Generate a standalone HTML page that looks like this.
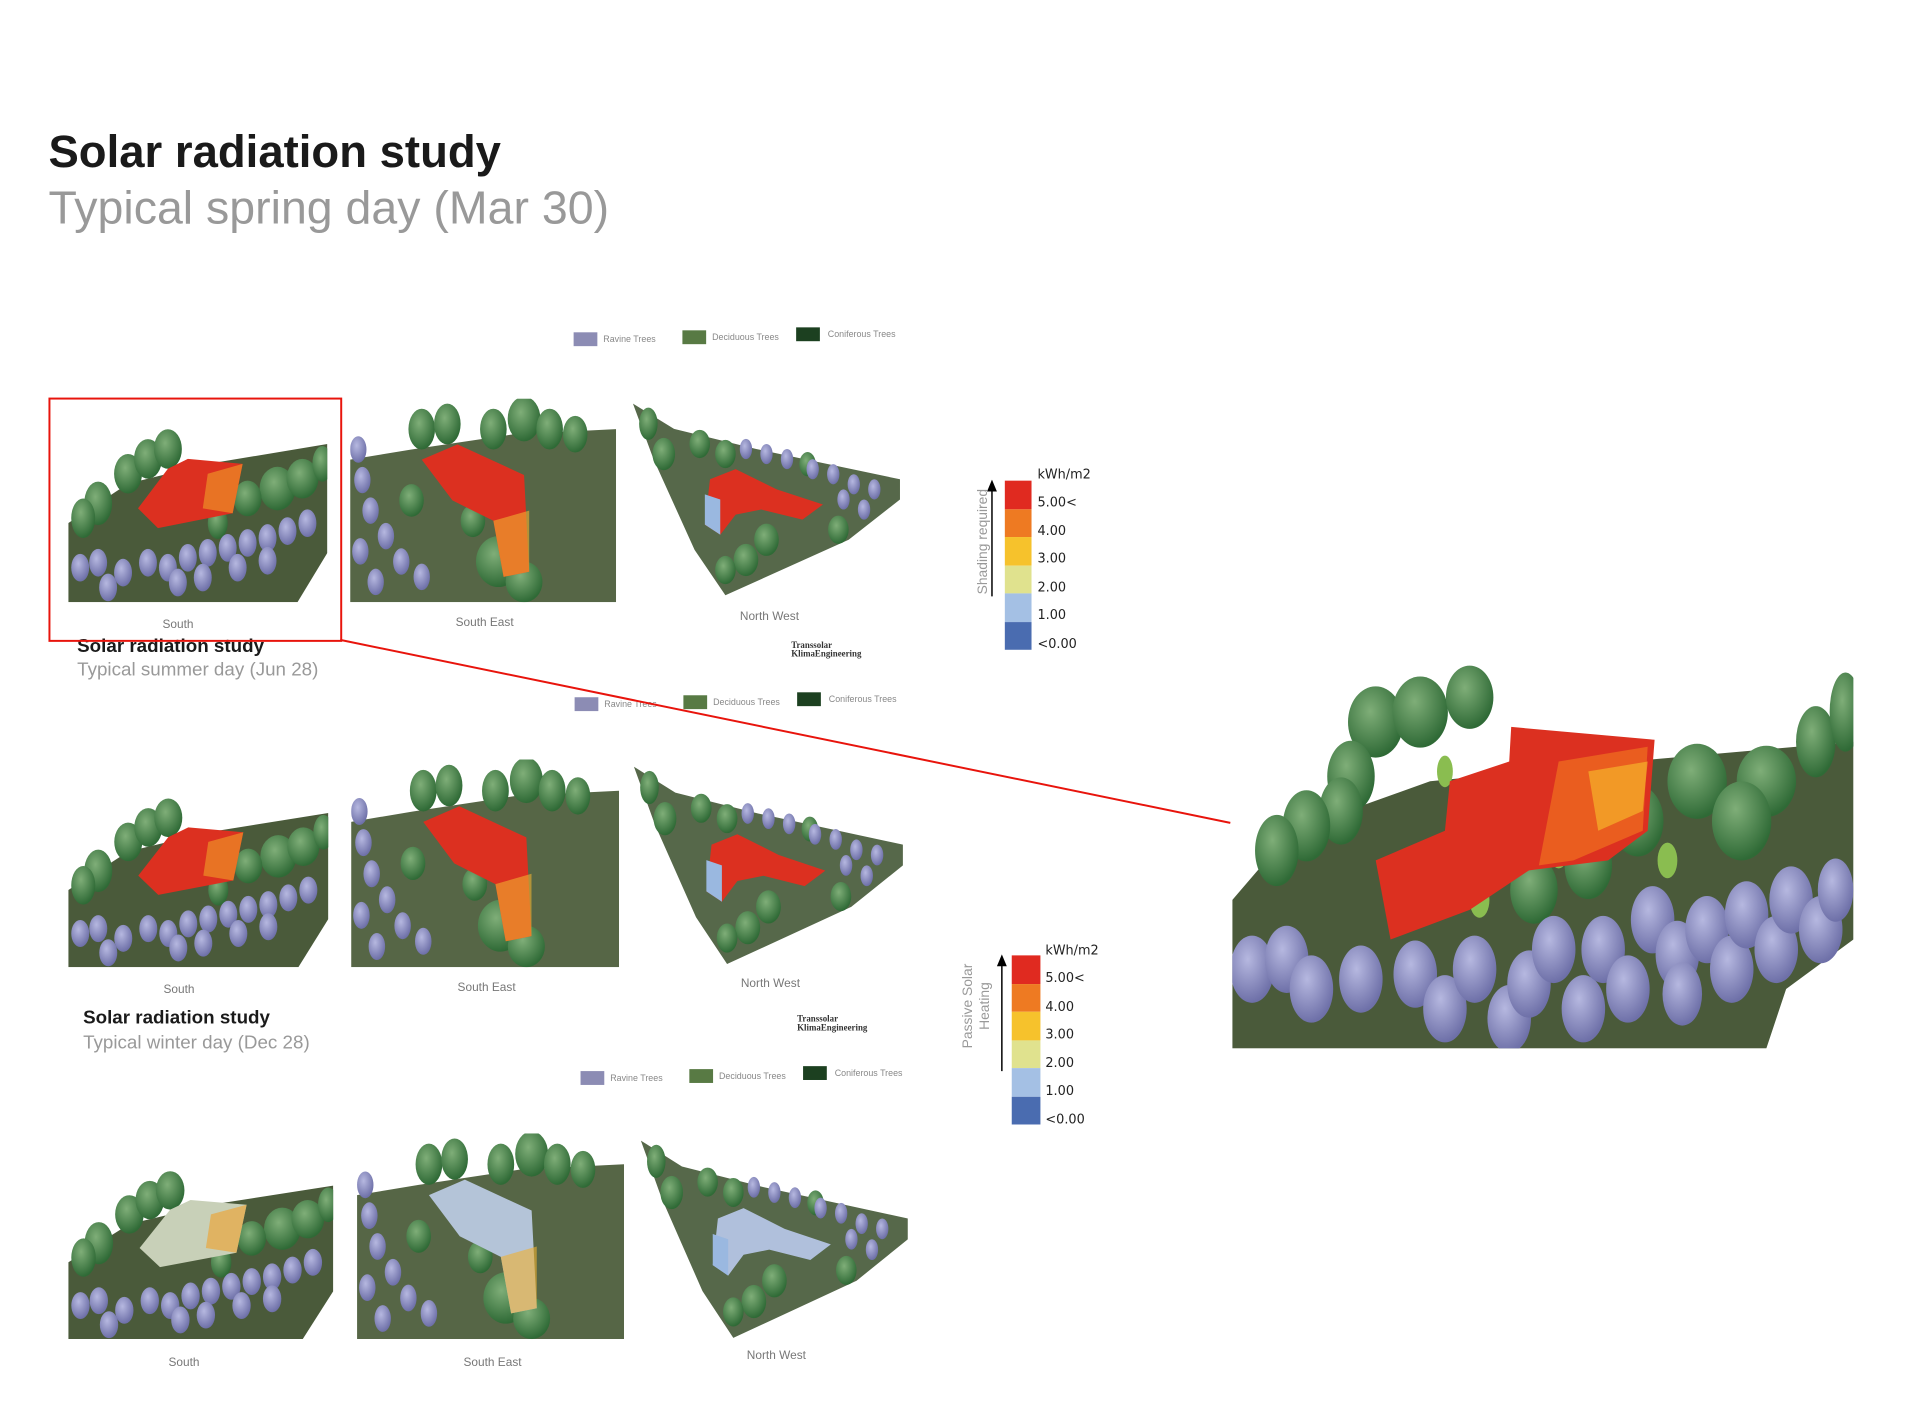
<!DOCTYPE html>
<html><head><meta charset="utf-8">
<style>
body{margin:0;width:1920px;height:1426px;background:#fff;position:relative;overflow:hidden;font-family:"Liberation Sans",sans-serif}
#w{position:absolute;left:0;top:0;width:1920px;height:1426px;transform:scale(0.989);transform-origin:0 0}
.a{position:absolute;white-space:nowrap}
.lbl{font-size:12px;color:#777;transform:translateX(-50%)}
.leg{font-size:9px;color:#888}
.sw{position:absolute;width:24px;height:14px}
.cb div{height:28.5px}
.cbl{font-size:13px;color:#222;font-family:"DejaVu Sans",sans-serif}
.ts{font-size:9px;font-weight:bold;line-height:9px;color:#333;font-family:"Liberation Serif",serif}
svg.sc{position:absolute}
</style></head><body>
<svg width="0" height="0" style="position:absolute">
<defs>
<radialGradient id="gg" cx="40%" cy="35%" r="65%"><stop offset="0" stop-color="#7fae78"/><stop offset="1" stop-color="#2f6a36"/></radialGradient>
<radialGradient id="pg" cx="40%" cy="35%" r="65%"><stop offset="0" stop-color="#b6b8e0"/><stop offset="1" stop-color="#6e70a8"/></radialGradient>
<symbol id="south" viewBox="0 0 260 200">
<polygon points="0,120 60,80 140,60 260,40 260,150 230,200 0,200" fill="#4a5a3a"/>
<g fill="url(#gg)"><ellipse cx="60" cy="70" rx="14" ry="20"/><ellipse cx="80" cy="55" rx="14" ry="20"/><ellipse cx="100" cy="45" rx="14" ry="20"/><ellipse cx="30" cy="100" rx="14" ry="22"/><ellipse cx="15" cy="115" rx="12" ry="20"/><ellipse cx="210" cy="85" rx="18" ry="22"/><ellipse cx="235" cy="75" rx="16" ry="20"/><ellipse cx="180" cy="95" rx="14" ry="18"/><ellipse cx="150" cy="120" rx="10" ry="16"/><ellipse cx="255" cy="60" rx="10" ry="18"/></g>
<polygon points="70,105 100,65 120,55 175,60 165,110 90,125" fill="currentColor"/>
<polygon points="140,70 175,60 165,110 135,105" fill="#f0a028" opacity=".6"/>
<g fill="url(#pg)"><ellipse cx="12" cy="165" rx="9" ry="14"/><ellipse cx="30" cy="160" rx="9" ry="14"/><ellipse cx="55" cy="170" rx="9" ry="14"/><ellipse cx="80" cy="160" rx="9" ry="14"/><ellipse cx="100" cy="165" rx="9" ry="14"/><ellipse cx="120" cy="155" rx="9" ry="14"/><ellipse cx="140" cy="150" rx="9" ry="14"/><ellipse cx="160" cy="145" rx="9" ry="14"/><ellipse cx="180" cy="140" rx="9" ry="14"/><ellipse cx="200" cy="135" rx="9" ry="14"/><ellipse cx="220" cy="128" rx="9" ry="14"/><ellipse cx="240" cy="120" rx="9" ry="14"/><ellipse cx="110" cy="180" rx="9" ry="14"/><ellipse cx="135" cy="175" rx="9" ry="14"/><ellipse cx="170" cy="165" rx="9" ry="14"/><ellipse cx="200" cy="158" rx="9" ry="14"/><ellipse cx="40" cy="185" rx="9" ry="14"/></g>
</symbol>
<symbol id="se" viewBox="0 0 260 200">
<polygon points="0,60 60,50 160,35 260,30 260,200 0,200" fill="#566646"/>
<g fill="url(#gg)"><ellipse cx="70" cy="30" rx="13" ry="20"/><ellipse cx="95" cy="25" rx="13" ry="20"/><ellipse cx="140" cy="30" rx="13" ry="20"/><ellipse cx="170" cy="20" rx="16" ry="22"/><ellipse cx="195" cy="30" rx="13" ry="20"/><ellipse cx="220" cy="35" rx="12" ry="18"/><ellipse cx="145" cy="160" rx="22" ry="25"/><ellipse cx="170" cy="180" rx="18" ry="20"/><ellipse cx="120" cy="120" rx="12" ry="16"/><ellipse cx="60" cy="100" rx="12" ry="16"/></g>
<polygon points="70,60 105,45 170,75 175,170 150,175 140,120 100,100" fill="currentColor"/>
<polygon points="140,120 175,110 175,170 150,175" fill="#f0b030" opacity=".6"/>
<g fill="url(#pg)"><ellipse cx="8" cy="50" rx="8" ry="13"/><ellipse cx="12" cy="80" rx="8" ry="13"/><ellipse cx="20" cy="110" rx="8" ry="13"/><ellipse cx="35" cy="135" rx="8" ry="13"/><ellipse cx="50" cy="160" rx="8" ry="13"/><ellipse cx="70" cy="175" rx="8" ry="13"/><ellipse cx="10" cy="150" rx="8" ry="13"/><ellipse cx="25" cy="180" rx="8" ry="13"/></g>
</symbol>
<symbol id="nw" viewBox="0 0 260 200">
<polygon points="0,5 40,30 120,50 260,80 260,100 210,140 90,195 60,150 20,60" fill="#56684a"/>
<g fill="url(#gg)"><ellipse cx="15" cy="25" rx="9" ry="16"/><ellipse cx="30" cy="55" rx="11" ry="16"/><ellipse cx="65" cy="45" rx="10" ry="14"/><ellipse cx="90" cy="55" rx="10" ry="14"/><ellipse cx="130" cy="140" rx="12" ry="16"/><ellipse cx="110" cy="160" rx="12" ry="16"/><ellipse cx="90" cy="170" rx="10" ry="14"/><ellipse cx="200" cy="130" rx="10" ry="14"/><ellipse cx="170" cy="65" rx="8" ry="12"/></g>
<g fill="url(#pg)"><ellipse cx="110" cy="50" rx="6" ry="10"/><ellipse cx="130" cy="55" rx="6" ry="10"/><ellipse cx="150" cy="60" rx="6" ry="10"/><ellipse cx="175" cy="70" rx="6" ry="10"/><ellipse cx="195" cy="75" rx="6" ry="10"/><ellipse cx="215" cy="85" rx="6" ry="10"/><ellipse cx="235" cy="90" rx="6" ry="10"/><ellipse cx="225" cy="110" rx="6" ry="10"/><ellipse cx="205" cy="100" rx="6" ry="10"/></g>
<polygon points="75,80 100,70 140,90 185,105 165,120 125,110 100,115 85,135 70,125" fill="currentColor"/>
<polygon points="70,95 85,100 85,135 70,125" fill="#9ab8e0"/>
</symbol>
</defs>
</svg>
<div id="w">
<div class="a" style="left:49px;top:126px;font-size:46px;font-weight:bold;color:#1a1a1a">Solar radiation study</div>
<div class="a" style="left:49px;top:182px;font-size:47px;color:#999">Typical spring day (Mar 30)</div>

<div class="a" style="left:580px;top:336px;width:340px;height:20px">
<div class="sw" style="left:0;top:0;background:#8c8cb4"></div><div class="a leg" style="left:30px;top:2px">Ravine Trees</div>
<div class="sw" style="left:110px;top:-2px;background:#587a44"></div><div class="a leg" style="left:140px;top:0">Deciduous Trees</div>
<div class="sw" style="left:225px;top:-5px;background:#1c4020"></div><div class="a leg" style="left:257px;top:-3px">Coniferous Trees</div></div>
<div class="a" style="left:581px;top:705px;width:340px;height:20px">
<div class="sw" style="left:0;top:0;background:#8c8cb4"></div><div class="a leg" style="left:30px;top:2px">Ravine Trees</div>
<div class="sw" style="left:110px;top:-2px;background:#587a44"></div><div class="a leg" style="left:140px;top:0">Deciduous Trees</div>
<div class="sw" style="left:225px;top:-5px;background:#1c4020"></div><div class="a leg" style="left:257px;top:-3px">Coniferous Trees</div></div>
<div class="a" style="left:587px;top:1083px;width:340px;height:20px">
<div class="sw" style="left:0;top:0;background:#8c8cb4"></div><div class="a leg" style="left:30px;top:2px">Ravine Trees</div>
<div class="sw" style="left:110px;top:-2px;background:#587a44"></div><div class="a leg" style="left:140px;top:0">Deciduous Trees</div>
<div class="sw" style="left:225px;top:-5px;background:#1c4020"></div><div class="a leg" style="left:257px;top:-3px">Coniferous Trees</div></div>

<svg class="sc" style="left:69px;top:409px;color:#dc3020" width="262" height="200" viewBox="0 0 260 200" preserveAspectRatio="none"><use href="#south"/></svg>
<svg class="sc" style="left:354px;top:403px;color:#dc3020" width="269" height="206" viewBox="0 0 260 200" preserveAspectRatio="none"><use href="#se"/></svg>
<svg class="sc" style="left:640px;top:403px;color:#dc3020" width="270" height="204" viewBox="0 0 260 200" preserveAspectRatio="none"><use href="#nw"/></svg>
<div class="a lbl" style="left:180px;top:624px">South</div>
<div class="a lbl" style="left:490px;top:622px">South East</div>
<div class="a lbl" style="left:778px;top:616px">North West</div>
<div class="a ts" style="left:800px;top:648px">Transsolar<br>KlimaEngineering</div>

<div class="a" style="left:78px;top:643px;font-size:19px;font-weight:bold;color:#1a1a1a">Solar radiation study</div>
<div class="a" style="left:78px;top:667px;font-size:19px;color:#999">Typical summer day (Jun 28)</div>

<svg class="sc" style="left:69px;top:783px;color:#dc3020" width="263" height="195" viewBox="0 0 260 200" preserveAspectRatio="none"><use href="#south"/></svg>
<svg class="sc" style="left:355px;top:768px;color:#dc3020" width="271" height="210" viewBox="0 0 260 200" preserveAspectRatio="none"><use href="#se"/></svg>
<svg class="sc" style="left:641px;top:770px;color:#dc3020" width="272" height="210" viewBox="0 0 260 200" preserveAspectRatio="none"><use href="#nw"/></svg>
<div class="a lbl" style="left:181px;top:993px">South</div>
<div class="a lbl" style="left:492px;top:991px">South East</div>
<div class="a lbl" style="left:779px;top:987px">North West</div>
<div class="a ts" style="left:806px;top:1026px">Transsolar<br>KlimaEngineering</div>

<div class="a" style="left:84px;top:1019px;font-size:19px;font-weight:bold;color:#1a1a1a">Solar radiation study</div>
<div class="a" style="left:84px;top:1044px;font-size:19px;color:#999">Typical winter day (Dec 28)</div>

<svg class="sc" style="left:69px;top:1160px;color:#c8d0b8" width="268" height="194" viewBox="0 0 260 200" preserveAspectRatio="none"><use href="#south"/></svg>
<svg class="sc" style="left:361px;top:1146px;color:#b4c4d8" width="270" height="208" viewBox="0 0 260 200" preserveAspectRatio="none"><use href="#se"/></svg>
<svg class="sc" style="left:648px;top:1148px;color:#b0c0dc" width="270" height="210" viewBox="0 0 260 200" preserveAspectRatio="none"><use href="#nw"/></svg>
<div class="a lbl" style="left:186px;top:1370px">South</div>
<div class="a lbl" style="left:498px;top:1370px">South East</div>
<div class="a lbl" style="left:785px;top:1363px">North West</div>

<div class="a cb" style="left:1016px;top:486px;width:27px">
<div style="background:#e02a20"></div><div style="background:#ee7a22"></div><div style="background:#f6c22c"></div><div style="background:#e0e28e"></div><div style="background:#a4c0e4"></div><div style="background:#4a6cb0"></div></div>
<div class="a cbl" style="left:1049px;top:473px">kWh/m2</div>
<div class="a cbl" style="left:1049px;top:501px">5.00&lt;</div>
<div class="a cbl" style="left:1049px;top:530px">4.00</div>
<div class="a cbl" style="left:1049px;top:558px">3.00</div>
<div class="a cbl" style="left:1049px;top:587px">2.00</div>
<div class="a cbl" style="left:1049px;top:615px">1.00</div>
<div class="a cbl" style="left:1049px;top:644px">&lt;0.00</div>
<svg class="sc" style="left:996px;top:485px" width="14" height="120"><line x1="7" y1="8" x2="7" y2="118" stroke="#000" stroke-width="1.5"/><polygon points="2,12 7,0 12,12" fill="#000"/></svg>
<div class="a" style="left:985px;top:601px;font-size:14px;color:#999;transform:rotate(-90deg);transform-origin:0 0">Shading required</div>

<div class="a cb" style="left:1023px;top:966px;width:29px">
<div style="background:#e02a20"></div><div style="background:#ee7a22"></div><div style="background:#f6c22c"></div><div style="background:#e0e28e"></div><div style="background:#a4c0e4"></div><div style="background:#4a6cb0"></div></div>
<div class="a cbl" style="left:1057px;top:954px">kWh/m2</div>
<div class="a cbl" style="left:1057px;top:982px">5.00&lt;</div>
<div class="a cbl" style="left:1057px;top:1011px">4.00</div>
<div class="a cbl" style="left:1057px;top:1039px">3.00</div>
<div class="a cbl" style="left:1057px;top:1068px">2.00</div>
<div class="a cbl" style="left:1057px;top:1096px">1.00</div>
<div class="a cbl" style="left:1057px;top:1125px">&lt;0.00</div>
<svg class="sc" style="left:1006px;top:965px" width="14" height="120"><line x1="7" y1="8" x2="7" y2="118" stroke="#000" stroke-width="1.5"/><polygon points="2,12 7,0 12,12" fill="#000"/></svg>
<div class="a" style="left:970px;top:1060px;font-size:14px;line-height:17px;color:#999;transform:rotate(-90deg);transform-origin:0 0;text-align:center">Passive Solar<br>Heating</div>

<svg class="sc" style="left:1246px;top:660px" width="628" height="400" viewBox="0 0 628 400">
<polygon points="0,250 60,180 200,130 400,110 628,90 628,290 560,340 540,400 0,400" fill="#4a5a3a"/>
<g fill="url(#gg)"><ellipse cx="145" cy="70" rx="28" ry="36"/><ellipse cx="190" cy="60" rx="28" ry="36"/><ellipse cx="240" cy="45" rx="24" ry="32"/><ellipse cx="120" cy="125" rx="24" ry="36"/><ellipse cx="110" cy="160" rx="22" ry="34"/><ellipse cx="75" cy="175" rx="24" ry="36"/><ellipse cx="45" cy="200" rx="22" ry="36"/><ellipse cx="470" cy="130" rx="30" ry="38"/><ellipse cx="540" cy="130" rx="30" ry="36"/><ellipse cx="515" cy="170" rx="30" ry="40"/><ellipse cx="410" cy="170" rx="26" ry="36"/><ellipse cx="360" cy="215" rx="24" ry="34"/><ellipse cx="305" cy="240" rx="24" ry="34"/><ellipse cx="590" cy="90" rx="20" ry="36"/><ellipse cx="620" cy="60" rx="16" ry="40"/></g>
<g fill="#8abd50"><ellipse cx="330" cy="200" rx="10" ry="18"/><ellipse cx="440" cy="210" rx="10" ry="18"/><ellipse cx="250" cy="250" rx="10" ry="18"/><ellipse cx="215" cy="120" rx="8" ry="16"/></g>
<polygon points="145,210 215,180 220,130 280,110 282,75 427,88 420,180 380,210 300,220 240,260 160,290" fill="#dc3020"/>
<polygon points="330,110 420,95 415,180 345,210 310,215" fill="#f07020" opacity=".7"/>
<polygon points="360,120 420,110 415,160 370,180" fill="#f6c22c" opacity=".6"/>
<g fill="url(#pg)"><ellipse cx="20" cy="320" rx="22" ry="34"/><ellipse cx="55" cy="310" rx="22" ry="34"/><ellipse cx="80" cy="340" rx="22" ry="34"/><ellipse cx="130" cy="330" rx="22" ry="34"/><ellipse cx="185" cy="325" rx="22" ry="34"/><ellipse cx="215" cy="360" rx="22" ry="34"/><ellipse cx="245" cy="320" rx="22" ry="34"/><ellipse cx="280" cy="370" rx="22" ry="34"/><ellipse cx="300" cy="335" rx="22" ry="34"/><ellipse cx="325" cy="300" rx="22" ry="34"/><ellipse cx="355" cy="360" rx="22" ry="34"/><ellipse cx="375" cy="300" rx="22" ry="34"/><ellipse cx="400" cy="340" rx="22" ry="34"/><ellipse cx="425" cy="270" rx="22" ry="34"/><ellipse cx="450" cy="305" rx="22" ry="34"/><ellipse cx="480" cy="280" rx="22" ry="34"/><ellipse cx="505" cy="320" rx="22" ry="34"/><ellipse cx="520" cy="265" rx="22" ry="34"/><ellipse cx="550" cy="300" rx="22" ry="34"/><ellipse cx="565" cy="250" rx="22" ry="34"/><ellipse cx="595" cy="280" rx="22" ry="34"/><ellipse cx="610" cy="240" rx="18" ry="32"/><ellipse cx="455" cy="345" rx="20" ry="32"/></g>
</svg>

<div class="a" style="left:49px;top:402px;width:293px;height:243px;border:2px solid #e8140c"></div>
<svg class="sc" style="left:0;top:0" width="1920" height="1426"><line x1="344" y1="647" x2="1244" y2="832" stroke="#e8140c" stroke-width="2"/></svg>
</div>
</body></html>
